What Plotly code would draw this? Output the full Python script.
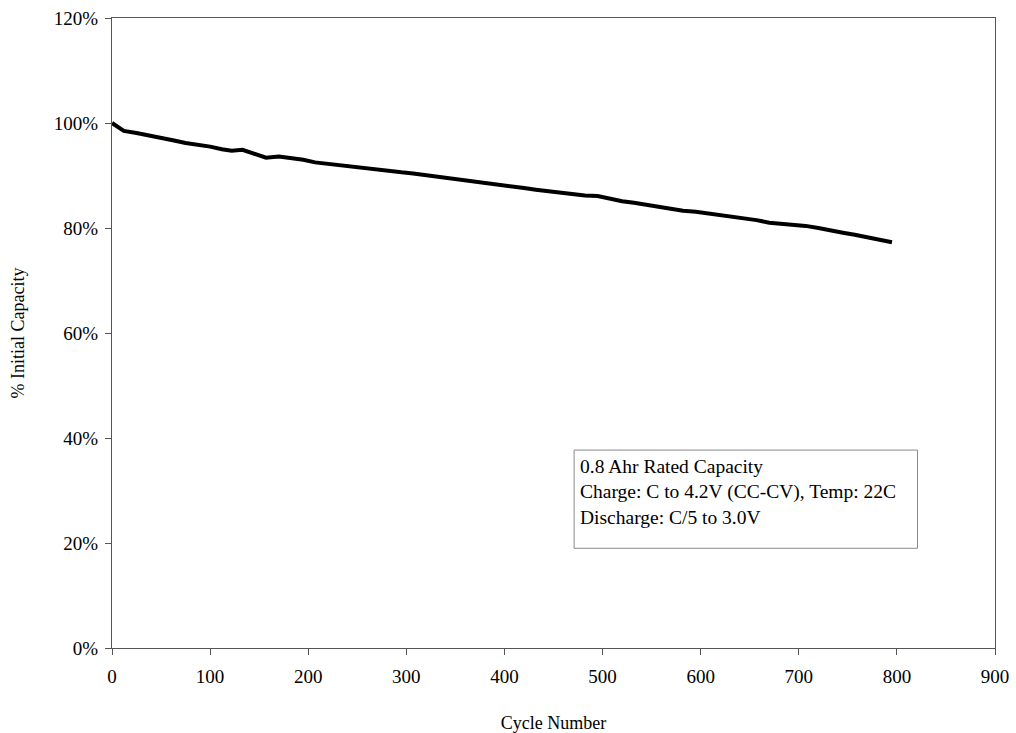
import plotly.graph_objects as go

cycles = [0, 12, 25, 37, 50, 62, 75, 87, 100, 112, 122, 133, 145, 157, 170, 182, 195,
          207, 220, 232, 245, 257, 270, 282, 295, 307, 320, 332, 345, 357, 370, 382, 395,
          407, 420, 432, 445, 457, 470, 482, 495, 507, 520, 532, 545, 557, 570, 582, 595,
          607, 620, 632, 645, 657, 670, 682, 695, 707, 720, 732, 745, 757, 770, 782, 795]
capacity = [100.0, 98.5, 98.1, 97.7, 97.2, 96.7, 96.2, 95.9, 95.5, 95.0, 94.7, 94.9, 94.2,
            93.4, 93.6, 93.3, 93.0, 92.5, 92.2, 91.9, 91.6, 91.3, 91.0, 90.9, 90.6, 90.4,
            90.1, 89.8, 89.4, 89.2, 88.9, 88.6, 88.3, 88.0, 87.6, 87.3, 87.0, 86.8, 86.5,
            86.2, 86.1, 85.6, 85.1, 84.8, 84.4, 84.0, 83.7, 83.3, 83.1, 82.8, 82.4, 82.1,
            81.8, 81.5, 81.0, 80.8, 80.7, 80.4, 80.0, 79.5, 79.1, 78.7, 78.2, 77.8, 77.3]

x_ticks = [0, 100, 200, 300, 400, 500, 600, 700, 800, 900]
y_ticks = [0, 20, 40, 60, 80, 100, 120]
y_tick_labels = ["0%", "20%", "40%", "60%", "80%", "100%", "120%"]

note_lines = ["0.8 Ahr Rated Capacity",
              "Charge: C to 4.2V (CC-CV), Temp: 22C",
              "Discharge: C/5 to 3.0V"]

FONT = "Liberation Serif, Times New Roman, serif"

fig = go.Figure()
fig.add_trace(go.Scatter(x=cycles, y=capacity, mode="lines",
                         line=dict(color="black", width=4), showlegend=False))

fig.add_shape(type="rect", xref="x", yref="y", x0=471, x1=821, y0=19.0, y1=37.7,
              line=dict(color="#888888", width=1), fillcolor="white", layer="below")
fig.add_annotation(xref="x", yref="y", x=475, y=37.0, xanchor="left", yanchor="top",
                   text="<br>".join(note_lines), align="left", showarrow=False,
                   font=dict(family=FONT, size=19.5, color="black"))

fig.update_layout(
    width=1016, height=733,
    margin=dict(l=112, r=21, t=18, b=85),
    paper_bgcolor="white", plot_bgcolor="white",
    font=dict(family=FONT, size=19, color="black"),
    xaxis=dict(range=[0, 900], tickvals=x_ticks, ticks="outside", ticklen=6,
               tickcolor="#555", showgrid=False, zeroline=False, showline=True,
               linecolor="#555", linewidth=1, mirror=True, automargin=False,
               ticklabelstandoff=5,
               title=dict(text="Cycle Number", font=dict(size=18), standoff=30),
               tickfont=dict(size=19)),
    yaxis=dict(range=[0, 120], tickvals=y_ticks, ticktext=y_tick_labels, ticks="outside",
               ticklen=6, tickcolor="#555", showgrid=False, zeroline=False,
               showline=True, linecolor="#555", linewidth=1, mirror=True, automargin=False,
               ticklabelstandoff=3,
               title=dict(text="% Initial Capacity", font=dict(size=18), standoff=24),
               tickfont=dict(size=19)),
)

fig.write_html("out.html")
